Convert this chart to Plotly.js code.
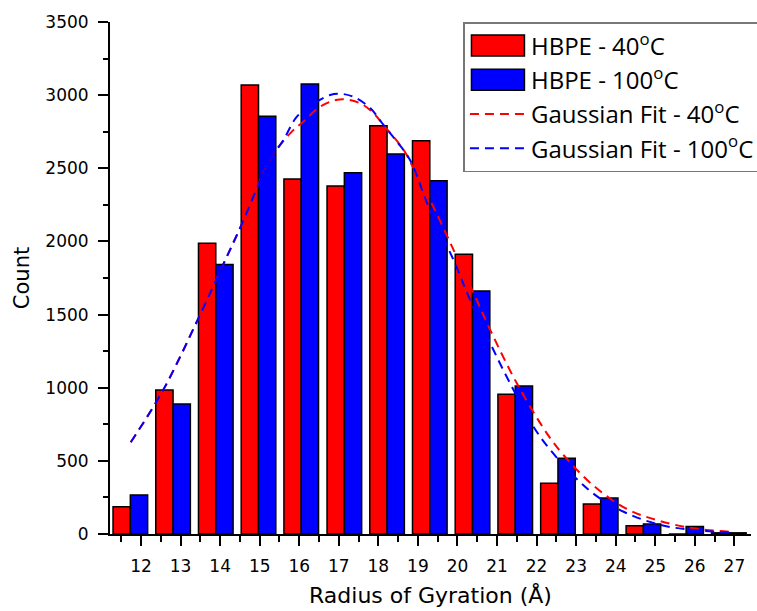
<!DOCTYPE html>
<html>
<head>
<meta charset="utf-8">
<script src="https://cdn.plot.ly/plotly-3.0.1.min.js"></script>
<style>html,body{margin:0;padding:0;background:#fff;}#chart{width:757px;height:611px;}</style>
</head>
<body>
<div id="chart"></div>
<script>
// Bin centres (Å)
const binCenters = [11.73, 12.81, 13.89, 14.97, 16.05, 17.14, 18.22, 19.30, 20.38, 21.46, 22.54, 23.62, 24.70, 25.78, 26.86];
// Counts
const count40 = [187, 984, 1987, 3069, 2427, 2379, 2791, 2689, 1912, 955, 347, 205, 57, 0, 8];
const count100 = [267, 889, 1843, 2855, 3076, 2470, 2598, 2415, 1661, 1012, 517, 246, 68, 52, 8];

// Gaussian fit curves
const fit40X = [11.74, 12.56, 13.45, 14.13, 14.52, 15.26, 15.77, 16.10, 16.53, 17.03, 17.54, 17.88, 18.13, 18.64, 18.89, 19.39, 19.94, 20.41, 20.83, 21.50, 22.26, 22.68, 23.44, 24.29, 25.13, 25.97, 26.87];
const fit40Y = [627, 984, 1474, 1873, 2101, 2557, 2739, 2818, 2921, 2971, 2944, 2876, 2796, 2625, 2500, 2237, 1919, 1645, 1394, 1030, 688, 540, 330, 170, 88, 39, 15];
const fit100X = [11.74, 12.56, 13.45, 14.13, 14.52, 15.26, 15.60, 15.94, 16.30, 16.78, 17.09, 17.40, 17.80, 18.13, 18.47, 18.80, 19.27, 19.90, 20.32, 20.91, 21.33, 22.09, 23.32, 24.20, 25.13, 25.97, 26.87];
const fit100Y = [627, 984, 1474, 1873, 2101, 2557, 2693, 2853, 2930, 3001, 3008, 2985, 2910, 2796, 2682, 2557, 2237, 1873, 1600, 1258, 1030, 665, 301, 152, 62, 27, 10];

const names = ['HBPE - 40<sup>o</sup>C', 'HBPE - 100<sup>o</sup>C', 'Gaussian Fit - 40<sup>o</sup>C', 'Gaussian Fit - 100<sup>o</sup>C'];
const xTicks = [12, 13, 14, 15, 16, 17, 18, 19, 20, 21, 22, 23, 24, 25, 26, 27];

const traces = [
  {type: 'bar', x: binCenters, y: count40, name: names[0], legendgroup: 'a',
   marker: {color: '#ff0000', line: {color: '#000000', width: 1.5}}},
  {type: 'bar', x: binCenters, y: count100, name: names[1], legendgroup: 'b',
   marker: {color: '#0000ff', line: {color: '#000000', width: 1.5}}},
  {type: 'scatter', mode: 'lines', x: fit40X, y: fit40Y, name: names[2], legendgroup: 'c',
   line: {color: '#ff0000', width: 2, dash: '9px,6px', shape: 'spline', smoothing: 1}},
  {type: 'scatter', mode: 'lines', x: fit100X, y: fit100Y, name: names[3], legendgroup: 'd',
   line: {color: '#0000ff', width: 2, dash: '9px,6px', shape: 'spline', smoothing: 1}}
];

const tickFont = {family: 'DejaVu Sans', size: 17, color: '#000'};
const layout = {
  width: 757, height: 611,
  margin: {l: 110, r: 6, t: 22, b: 77, pad: 0, autoexpand: false},
  paper_bgcolor: '#fff', plot_bgcolor: '#fff',
  barmode: 'group', bargap: 0.19, bargroupgap: 0,
  showlegend: true,
  legend: {
    x: 0.5514, y: 1, xanchor: 'left', yanchor: 'top',
    bgcolor: '#fff', bordercolor: '#777', borderwidth: 1.5,
    font: {family: 'Open Sans', size: 24, color: '#000'},
    traceorder: 'grouped', tracegroupgap: 0, itemwidth: 56
  },
  xaxis: {
    range: [11.216, 27.42], tickmode: 'array', tickvals: xTicks, ticktext: xTicks.map(String),
    ticks: 'outside', ticklen: 10, tickwidth: 2, tickcolor: '#000',
    minor: {dtick: 0.5, tick0: 11.5, ticks: 'outside', ticklen: 6, tickwidth: 2, tickcolor: '#000'},
    showline: true, linewidth: 2, linecolor: '#000', showgrid: false, zeroline: false,
    tickfont: tickFont, ticklabelstandoff: 6,
    title: {text: 'Radius of Gyration (Å)', font: {family: 'DejaVu Sans', size: 22, color: '#000'}, standoff: 12}
  },
  yaxis: {
    range: [0, 3500], dtick: 500, tick0: 0,
    ticks: 'outside', ticklen: 10, tickwidth: 2, tickcolor: '#000',
    minor: {dtick: 250, ticks: 'outside', ticklen: 5, tickwidth: 2, tickcolor: '#000'},
    showline: true, linewidth: 2, linecolor: '#000', showgrid: false, zeroline: false,
    tickfont: tickFont, ticklabelstandoff: 6,
    title: {text: 'Count', font: {family: 'DejaVu Sans', size: 21, color: '#000'}, standoff: 10}
  }
};

function bigSwatches() {
  var gd = document.getElementById('chart');
  gd.querySelectorAll('g.legendpoints path').forEach(function (p) {
    var cls = p.getAttribute('class') || '';
    if (cls.indexOf('legendbar') >= 0 || cls.indexOf('legendundefined') >= 0) {
      p.setAttribute('d', 'M26.5,10.5H-26.5V-10.5H26.5Z');
    }
  });
}

Plotly.newPlot('chart', traces, layout, {displayModeBar: false}).then(function (gd) {
  bigSwatches();
  gd.on('plotly_afterplot', bigSwatches);
  setTimeout(bigSwatches, 50);
  setTimeout(bigSwatches, 300);
});
</script>
</body>
</html>
